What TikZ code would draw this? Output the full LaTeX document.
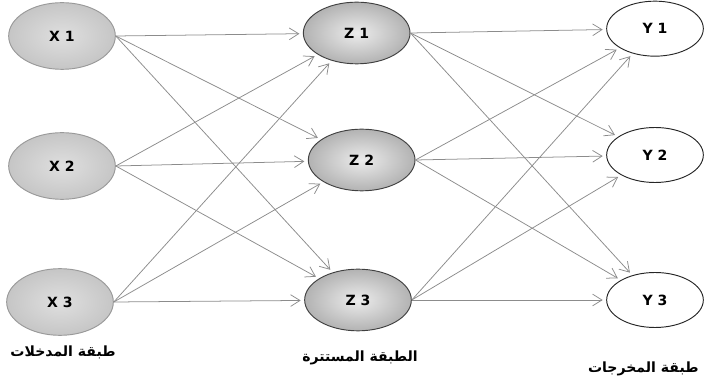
\documentclass[tikz,border=0pt]{standalone}
\usepackage{fontspec}
\setmainfont{DejaVu Sans}
\newfontfamily\arabicfont[Script=Arabic]{DejaVu Sans}
\TeXXeTstate=1
\usepackage{tikz}
\usetikzlibrary{arrows.meta,shapes.geometric}
\tikzset{%
  InStyle/.style={ellipse,draw=gray!80,thick,inner color=gray!25,outer color=gray!45,
    minimum width=3.2cm,minimum height=2.0cm,font=\bfseries\large},
  HidStyle/.style={InStyle,inner color=gray!15,outer color=gray!60,draw=black!75,
    minimum width=3.2cm,minimum height=1.85cm},
  OutStyle/.style={ellipse,draw=black!85,thick,fill=white,
    minimum width=2.9cm,minimum height=1.65cm,font=\bfseries\large},
  LinkStyle/.style={draw=gray!90,line width=0.65pt,
    -{Straight Barb[length=8pt,width=10pt]},shorten >=3pt},
  LayerStyle/.style={font=\arabicfont\bfseries\large}
}

\begin{document}
\begin{tikzpicture}
  \useasboundingbox (0,0) rectangle (21.12,11.46);
  % three layers
  \foreach \i/\xx/\yy in {1/1.86/10.38, 2/1.86/6.48, 3/1.80/2.40}
    \node[InStyle] (x\i) at (\xx,\yy) {X \i};
  \foreach \i/\xx/\yy in {1/10.70/10.47, 2/10.85/6.66, 3/10.74/2.46}
    \node[HidStyle] (z\i) at (\xx,\yy) {Z \i};
  \foreach \i/\yy in {1/10.60, 2/6.81, 3/2.46}
    \node[OutStyle] (y\i) at (19.65,\yy) {Y \i};
  % connections
  \foreach \i in {1,2,3}{
    \foreach \j in {1,2,3}{
      \draw[LinkStyle] (x\i.east) -- (z\j);
      \draw[LinkStyle] (z\i.east) -- (y\j);
    }
  }
  % layer names
  \node[LayerStyle] (lin) at (1.89,0.90) {\beginR طبقة المدخلات\endR};
  \node[LayerStyle] (lhid) at (10.80,0.72) {\beginR الطبقة المستترة\endR};
  \node[LayerStyle,anchor=east] (lout) at (21.08,0.40) {\beginR طبقة المخرجات\endR};
\end{tikzpicture}
\end{document}
